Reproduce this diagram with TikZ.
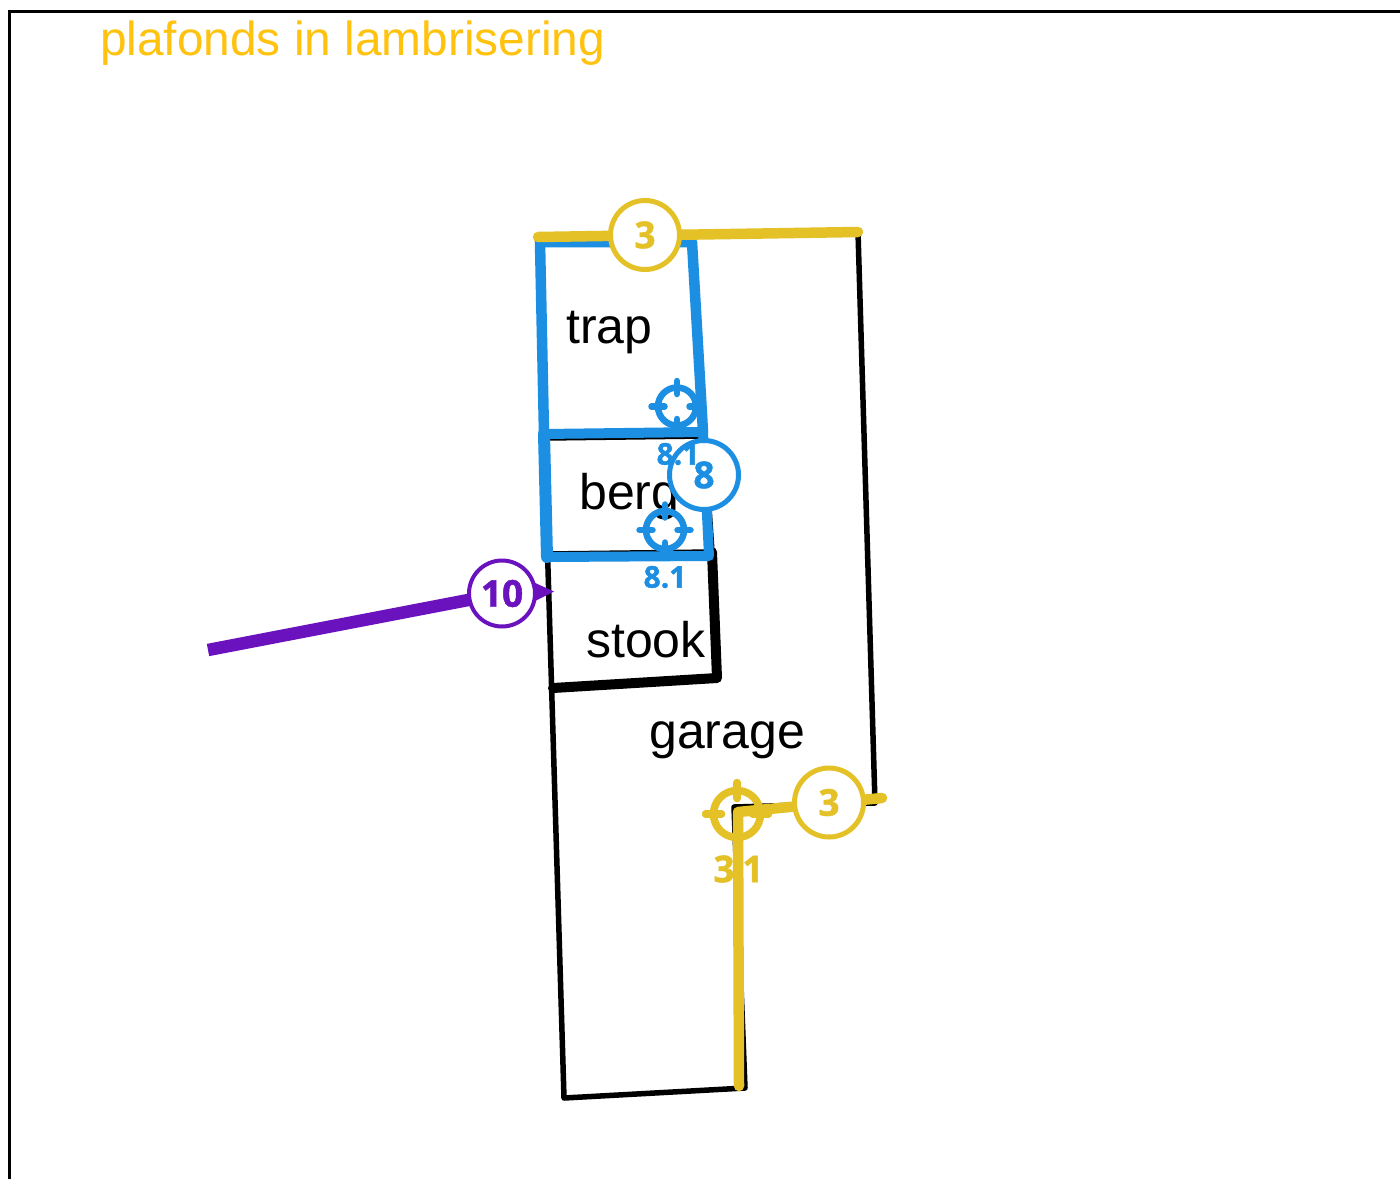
\documentclass[tikz,border=0pt]{standalone}
\usepackage{fontspec}
\setmainfont{Liberation Sans}
\newfontfamily\badgefont{Open Sans}[BoldFeatures={FakeBold=1.3}]
\definecolor{ybar}{HTML}{E5C128}
\definecolor{ytitle}{HTML}{FFC20E}
\definecolor{bbar}{HTML}{1C8FE3}
\definecolor{pbar}{HTML}{6A12BE}
\tikzset{
 x=1pt,y=-1pt,
 wall/.style={draw=black,line width=5.5pt,line cap=round,line join=round},
 heavywall/.style={draw=black,line width=10pt,line cap=round,line join=round},
 room/.style={font=\fontsize{50}{50}\selectfont,text=black,anchor=base west,inner sep=0pt},
 badge/.style={circle,draw=#1,fill=white,line width=5pt,minimum size=69pt,inner sep=0pt,text=#1,font=\badgefont\bfseries\fontsize{37}{37}\selectfont},
 ticklabel/.style={text=#1,inner sep=0pt,font=\badgefont\bfseries\fontsize{30}{30}\selectfont},
 ring/.style={circle,draw=#1,inner sep=0pt},
 tick/.style={draw=#1,line cap=round},
 run/.style={draw=#1,line width=10.5pt,line cap=round,line join=round},
}
\newcommand{\target}[7]{% name, x, y, colour, diameter, line width, half tick
 \node[ring=#4,minimum size=#5pt,line width=#6pt] (#1) at (#2,#3) {};
 \draw[tick=#4,line width=#6pt] ([yshift=#7pt-#6pt*0.5]#1.north) -- ([yshift=-#7pt-#6pt*0.5]#1.north);
 \draw[tick=#4,line width=#6pt] ([yshift=#7pt+#6pt*0.5]#1.south) -- ([yshift=-#7pt+#6pt*0.5]#1.south);
 \draw[tick=#4,line width=#6pt] ([xshift=-#7pt+#6pt*0.5]#1.west) -- ([xshift=#7pt+#6pt*0.5]#1.west);
 \draw[tick=#4,line width=#6pt] ([xshift=-#7pt-#6pt*0.5]#1.east) -- ([xshift=#7pt-#6pt*0.5]#1.east);
}
\begin{document}
\begin{tikzpicture}
\useasboundingbox (0,0) rectangle (1400,1178);
\path[fill=white] (0,0) rectangle (1400,1178);
% frame
\coordinate (fa) at (9.5,1182);
\coordinate (fb) at (9.5,11);
\coordinate (fc) at (1404,11);
\draw[black,line width=3pt] (fa) -- (fb) -- (fc);
% outline
\coordinate (w1) at (538,238);
\coordinate (w2) at (858,232);
\coordinate (w3) at (875,803);
\coordinate (w4) at (734,807);
\coordinate (w5) at (745,1088);
\coordinate (w6) at (564,1098);
\draw[wall] (w1) -- (w2) -- (w3) -- (w4) -- (w5) -- (w6) -- cycle;
% stook
\coordinate (s1) at (712,552);
\coordinate (s2) at (717,678);
\coordinate (s3) at (553,688);
\coordinate (s4) at (547,554);
\coordinate (s5) at (691,240);
\coordinate (s6) at (546,438);
\coordinate (s7) at (704,436);
\draw[wall] (s4) -- (s1) -- (s5);
\draw[wall] (s6) -- (s7);
\draw[heavywall] (s1) -- (s2) -- (s3);
% blue rooms
\coordinate (b1) at (540,242);
\coordinate (b2) at (692,242);
\coordinate (b3) at (709,556);
\coordinate (b4) at (547,557);
\coordinate (b5) at (544,434);
\coordinate (b6) at (703,432);
\draw[run=bbar] (b1) -- (b2) -- (b6);
\draw[run=bbar] (b1) -- (b5);
\draw[run=bbar,line width=12pt] (b5) -- (b4);
\draw[run=bbar,line width=10pt] (b5) -- (b6) -- (b3) -- (b4);
% labels
\node[anchor=base west,inner sep=0pt,text=ytitle,font=\fontsize{47.8}{48}\selectfont] (title) at (100,55) {plafonds in lambrisering};
\node[room] (trap) at (566,343.5) {trap};
\node[room] (berg) at (579,509.5) {berg};
\node[room] (stook) at (586,657) {stook};
\node[room] (garage) at (649,748.5) {garage};
% blue targets
\target{tb1}{677}{406.5}{bbar}{38}{6.5}{6.5}
\node[badge=bbar] (n8) at (704,475) {8};
\node[ticklabel=bbar] (tl1) at (678,454) {8.1};
\target{tb2}{665}{530}{bbar}{38}{6.5}{6.5}
\node[ticklabel=bbar] (tl2) at (665,577) {8.1};
% purple
\coordinate (p0) at (208,650);
\node[circle,minimum size=66pt,inner sep=0pt] (n10pos) at (502,593.5) {};
\draw[pbar,line width=12.5pt] (p0) -- (n10pos);
\coordinate (ptip) at (554,591.5);
\fill[pbar] (ptip) -- (533,582) -- (533,602) -- cycle;
\node[badge=pbar,minimum size=66pt,line width=4pt] (n10) at (502,593.5) {10};
% yellow
\coordinate (y1) at (538,237);
\coordinate (y2) at (858,232);
\draw[run=ybar] (y1) -- (y2);
\node[badge=ybar] (n3a) at (645,235) {3};
\target{ty}{737}{814}{ybar}{47}{7.5}{8}
\coordinate (y3) at (882,798);
\coordinate (y4) at (738,812);
\coordinate (y5) at (739,1086);
\draw[run=ybar] (y3) -- (y4) -- (y5);
\node[badge=ybar] (n3b) at (829,802.5) {3};
\node[text=ybar,inner sep=0pt,font=\badgefont\bfseries\fontsize{37}{37}\selectfont] (tl3a) at (724,869) {3};
\node[text=ybar,inner sep=0pt,font=\badgefont\bfseries\fontsize{37}{37}\selectfont] (tl3b) at (753,869) {1};
\end{tikzpicture}
\end{document}
